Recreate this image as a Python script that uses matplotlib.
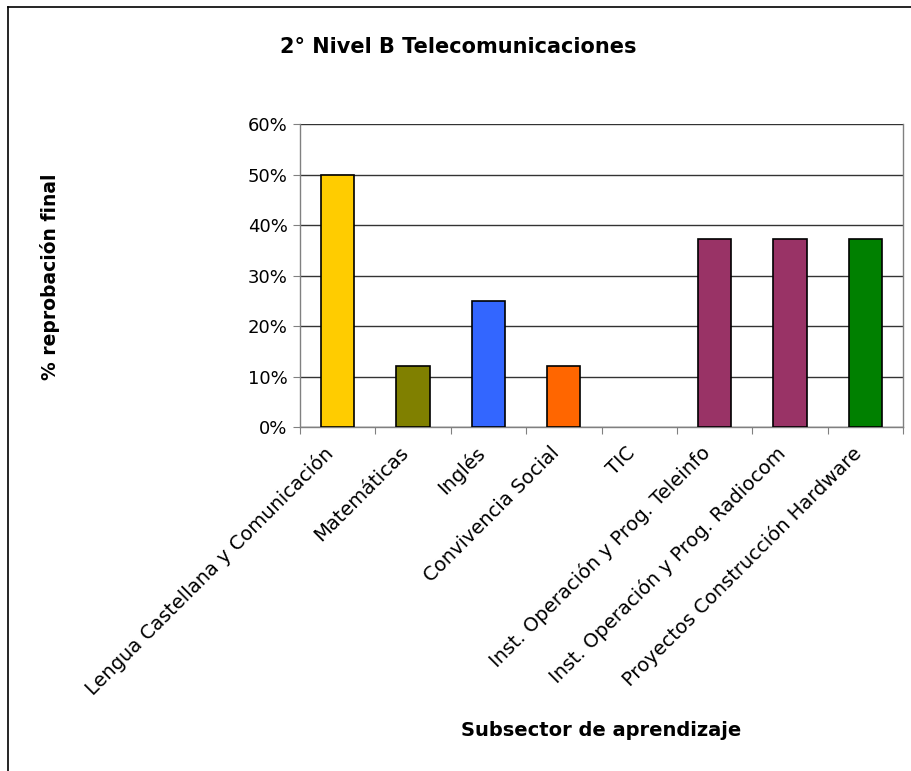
import matplotlib
matplotlib.use("Agg")
import matplotlib.pyplot as plt
from matplotlib.lines import Line2D
from matplotlib.ticker import FuncFormatter, FixedLocator
from matplotlib.transforms import ScaledTranslation, blended_transform_factory
import numpy as np

categories = ["Lengua Castellana y Comunicación", "Matemáticas", "Inglés",
              "Convivencia Social", "TIC", "Inst. Operación y Prog. Teleinfo",
              "Inst. Operación y Prog. Radiocom", "Proyectos Construcción Hardware"]
values = [0.50, 0.12, 0.25, 0.12, 0.0, 0.373, 0.373, 0.373]
colors = ["#FFCC00", "#808000", "#3366FF", "#FF6600", "#CCCCCC",
          "#993366", "#993366", "#008000"]
yticks = [0, 0.1, 0.2, 0.3, 0.4, 0.5, 0.6]

plt.rcParams['font.family'] = ['DejaVu Sans']

W, H = 911, 771
fig = plt.figure(figsize=(W / 100, H / 100), dpi=100)
fig.patch.set_facecolor('white')

# axes position in pixels
L, R, T, B = 300, 903, 124, 427
ax = fig.add_axes([L / W, 1 - B / H, (R - L) / W, (B - T) / H])

x = np.arange(len(categories))
edges = ['black' if v > 0 else 'none' for v in values]
ax.bar(x, values, width=0.44, color=colors, edgecolor=edges, linewidth=1.2, zorder=3)

ax.set_xlim(-0.5, len(categories) - 0.5)
ax.set_ylim(0, 0.6)
ax.yaxis.set_major_locator(FixedLocator(yticks))
ax.yaxis.set_major_formatter(FuncFormatter(lambda v, p: f"{v*100:.0f}%"))
ax.grid(axis='y', color='#333333', linewidth=1.0, zorder=0)
ax.set_axisbelow(True)

ax.set_xticks(np.arange(len(categories) + 1) - 0.5)
ax.set_xticklabels([])
ax.tick_params(axis='x', length=5, color='#808080', direction='out')
ax.tick_params(axis='y', length=5, color='#808080', direction='out', labelsize=13, pad=4)

# category labels, rotated 45 degrees, ending just below each bar
trans = blended_transform_factory(ax.transData, ax.transAxes) + \
    ScaledTranslation(-14 / 100, -16 / 100, fig.dpi_scale_trans)
for xi, cat in zip(x, categories):
    ax.text(xi, 0, cat, transform=trans, rotation=45, ha='right', va='top',
            rotation_mode='anchor', fontsize=14, clip_on=False)

for s in ['left', 'bottom', 'right']:
    ax.spines[s].set_color('#808080')
    ax.spines[s].set_linewidth(1.0)
ax.spines['top'].set_visible(False)

fig.text(50 / W, 1 - 277 / H, "% reprobación final", ha='center', va='center',
         rotation=90, fontsize=13.5, fontweight='bold')
fig.text(601 / W, 1 - 731 / H, "Subsector de aprendizaje", ha='center', va='center',
         fontsize=14, fontweight='bold')
fig.text(458 / W, 1 - 47 / H, "2° Nivel B Telecomunicaciones", ha='center', va='center',
         fontsize=15, fontweight='bold')

# figure border (left and top)
fig.add_artist(Line2D([8 / W, 8 / W], [0, 1 - 7 / H], transform=fig.transFigure,
                      color='black', linewidth=1.2))
fig.add_artist(Line2D([8 / W, 1], [1 - 7 / H, 1 - 7 / H], transform=fig.transFigure,
                      color='black', linewidth=1.2))

fig.savefig("out.png", dpi=100, facecolor='white')
